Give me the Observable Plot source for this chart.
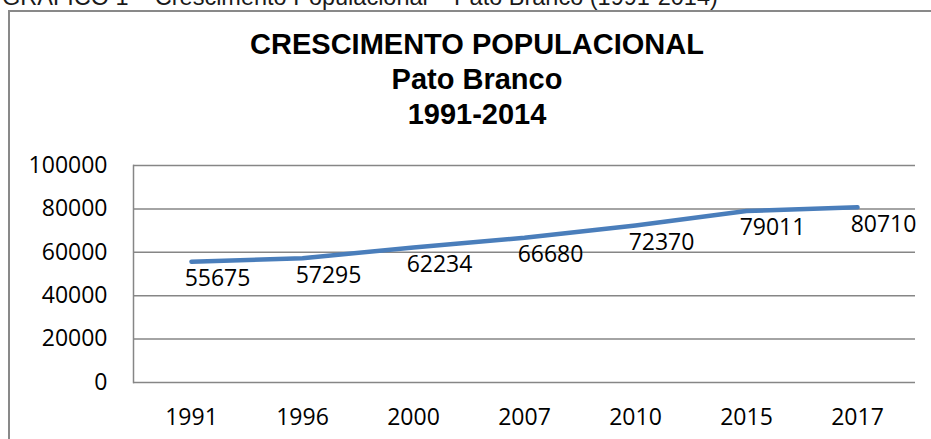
<!DOCTYPE html>
<html>
<head>
<meta charset="utf-8">
<script src="https://cdn.jsdelivr.net/npm/d3@7"></script>
<script src="https://cdn.jsdelivr.net/npm/@observablehq/plot@0.6"></script>
<style>
  html, body { margin: 0; padding: 0; background: #fff; width: 931px; height: 439px; overflow: hidden; position: relative; }
  #header { position: absolute; left: 2px; top: -14px; font-family: "Liberation Sans", Arial, sans-serif; font-size: 23.5px; color: #1a1a1a; white-space: nowrap; line-height: 23px; }
  #box { position: absolute; left: 8px; top: 10px; width: 940px; height: 460px; border: 2px solid #898989; box-sizing: border-box; }
  #title { position: absolute; left: 0; width: 954px; top: 27px; text-align: center; font-family: "Liberation Sans", Arial, sans-serif; font-weight: bold; font-size: 29px; line-height: 35px; color: #000; }
  #chart { position: absolute; left: 0; top: 140px; }
</style>
</head>
<body>
<div id="header">GRÁFICO 1 – Crescimento Populacional – Pato Branco (1991-2014)</div>
<div id="box"></div>
<div id="title">CRESCIMENTO POPULACIONAL<br>Pato Branco<br>1991-2014</div>
<div id="chart"></div>
<script>
const years = ["1991", "1996", "2000", "2007", "2010", "2015", "2017"];
const population = [55675, 57295, 62234, 66680, 72370, 79011, 80710];
const yTicks = [0, 20000, 40000, 60000, 80000, 100000];

const data = years.map((y, i) => ({year: y, pop: population[i]}));

const chart = Plot.plot({
  width: 931,
  height: 299,
  marginLeft: 133,
  marginRight: 16,
  marginTop: 25,
  marginBottom: 57,
  style: {fontFamily: "'Open Sans', sans-serif", fontSize: "23px", color: "#000", background: "transparent"},
  x: {type: "point", domain: years, padding: 0.5, label: null},
  y: {domain: [0, 100000], label: null},
  marks: [
    Plot.ruleY(yTicks, {stroke: "#868686", strokeWidth: 1.5, strokeOpacity: 1}),
    Plot.frame({anchor: "left", stroke: "#868686", strokeWidth: 1.5}),
    Plot.axisY({ticks: yTicks, tickSize: 0, tickPadding: 26, tickFormat: d => String(d), fontSize: 23, label: null}),
    Plot.axisX({tickSize: 0, tickPadding: 26, fontSize: 23, label: null}),
    Plot.line(data, {x: "year", y: "pop", stroke: "#4A7EBB", strokeWidth: 4.5, strokeLinecap: "round", strokeLinejoin: "round"}),
    Plot.text(data, {x: "year", y: "pop", text: d => String(d.pop), dx: 26, dy: 17, fontSize: 23, fill: "#000"})
  ]
});
document.getElementById("chart").appendChild(chart);
</script>
</body>
</html>
